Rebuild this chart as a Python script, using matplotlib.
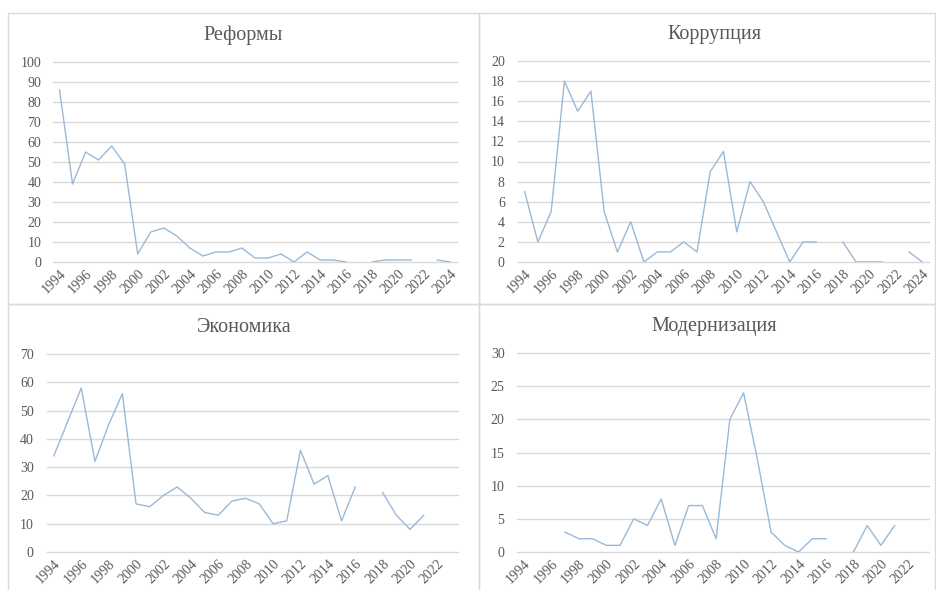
import numpy as np
import matplotlib
matplotlib.use("Agg")
import matplotlib.pyplot as plt
from matplotlib.patches import Rectangle

nan = np.nan

years_top = list(range(1994, 2025))
years_bottom = list(range(1994, 2024))

reforms = [86, 39, 55, 51, 58, 49, 4, 15, 17, 13, 7, 3, 5, 5, 7, 2, 2, 4, 0, 5,
           1, 1, 0, nan, 0, 1, 1, 1, nan, 1, 0]
corruption = [7, 2, 5, 18, 15, 17, 5, 1, 4, 0, 1, 1, 2, 1, 9, 11, 3, 8, 6, 3,
              0, 2, 2, nan, 2, 0, 0, 0, nan, 1, 0]
economy = [34, 46, 58, 32, 45, 56, 17, 16, 20, 23, 19, 14, 13, 18, 19, 17, 10, 11,
           36, 24, 27, 11, 23, nan, 21, 13, 8, 13, nan, nan]
modernization = [nan, nan, nan, 3, 2, 2, 1, 1, 5, 4, 8, 1, 7, 7, 2, 20, 24, 14,
                 3, 1, 0, 2, 2, nan, 0, 4, 1, 4, nan, nan]

titles = ["Реформы", "Коррупция", "Экономика", "Модернизация"]
ymax = [100, 20, 70, 30]
ystep = [10, 2, 10, 5]

W, H = 936, 590
fig = plt.figure(figsize=(W / 100, H / 100), dpi=100)
fig.patch.set_facecolor("white")

serif = ["Liberation Serif", "DejaVu Serif"]
txt_col = "#595959"
grid_col = "#d9d9d9"
line_col = "#9ab9d8"

# panel boxes (left, top, right, bottom) in pixels
boxes = [(8, 13, 479, 304), (479, 13, 935, 304), (8, 304, 479, 600), (479, 304, 935, 600)]
for (l, t, r, b) in boxes:
    fig.add_artist(Rectangle((l / W, 1 - b / H), (r - l) / W, (b - t) / H,
                             transform=fig.transFigure, fill=False,
                             edgecolor=grid_col, linewidth=1.0))

# plot areas (left, top, right, bottom) in pixels
areas = [(53, 62, 457, 262), (518, 61, 929, 262), (47, 354, 458, 552), (517, 353, 929, 552)]
title_pos = [(243, 35), (714, 35), (244, 327), (714, 327)]
data = [(years_top, reforms), (years_top, corruption),
        (years_bottom, economy), (years_bottom, modernization)]
ypads = [8.5, 9.5, 9.5, 9]

for i in range(4):
    l, t, r, b = areas[i]
    ax = fig.add_axes([l / W, 1 - b / H, (r - l) / W, (b - t) / H])
    x, y = data[i]
    ax.plot(x, y, color=line_col, linewidth=1.0)
    ax.set_xlim(x[0] - 0.5, x[-1] + 0.5)
    ax.set_ylim(0, ymax[i])
    ax.set_yticks(np.arange(0, ymax[i] + 0.1, ystep[i]))
    ax.set_xticks(x[::2])
    ax.set_xticklabels([str(v) for v in x[::2]], rotation=45, ha="right", va="top",
                       rotation_mode="anchor", fontfamily=serif, fontsize=10, color=txt_col)
    ax.set_yticklabels([str(int(v)) for v in ax.get_yticks()], fontfamily=serif,
                       fontsize=10, color=txt_col)
    ax.tick_params(axis="both", length=0)
    ax.tick_params(axis="y", pad=ypads[i])
    ax.tick_params(axis="x", pad=4)
    for s in ax.spines.values():
        s.set_visible(False)
    ax.grid(axis="y", color=grid_col, linewidth=1.0)
    ax.set_axisbelow(True)
    for gl in ax.get_ygridlines():
        gl.set_clip_on(False)
    tx, ty = title_pos[i]
    fig.text(tx / W, 1 - ty / H, titles[i], ha="center", va="center",
             fontfamily=serif, fontsize=14.5, color=txt_col)

fig.savefig("out.png", dpi=100)
